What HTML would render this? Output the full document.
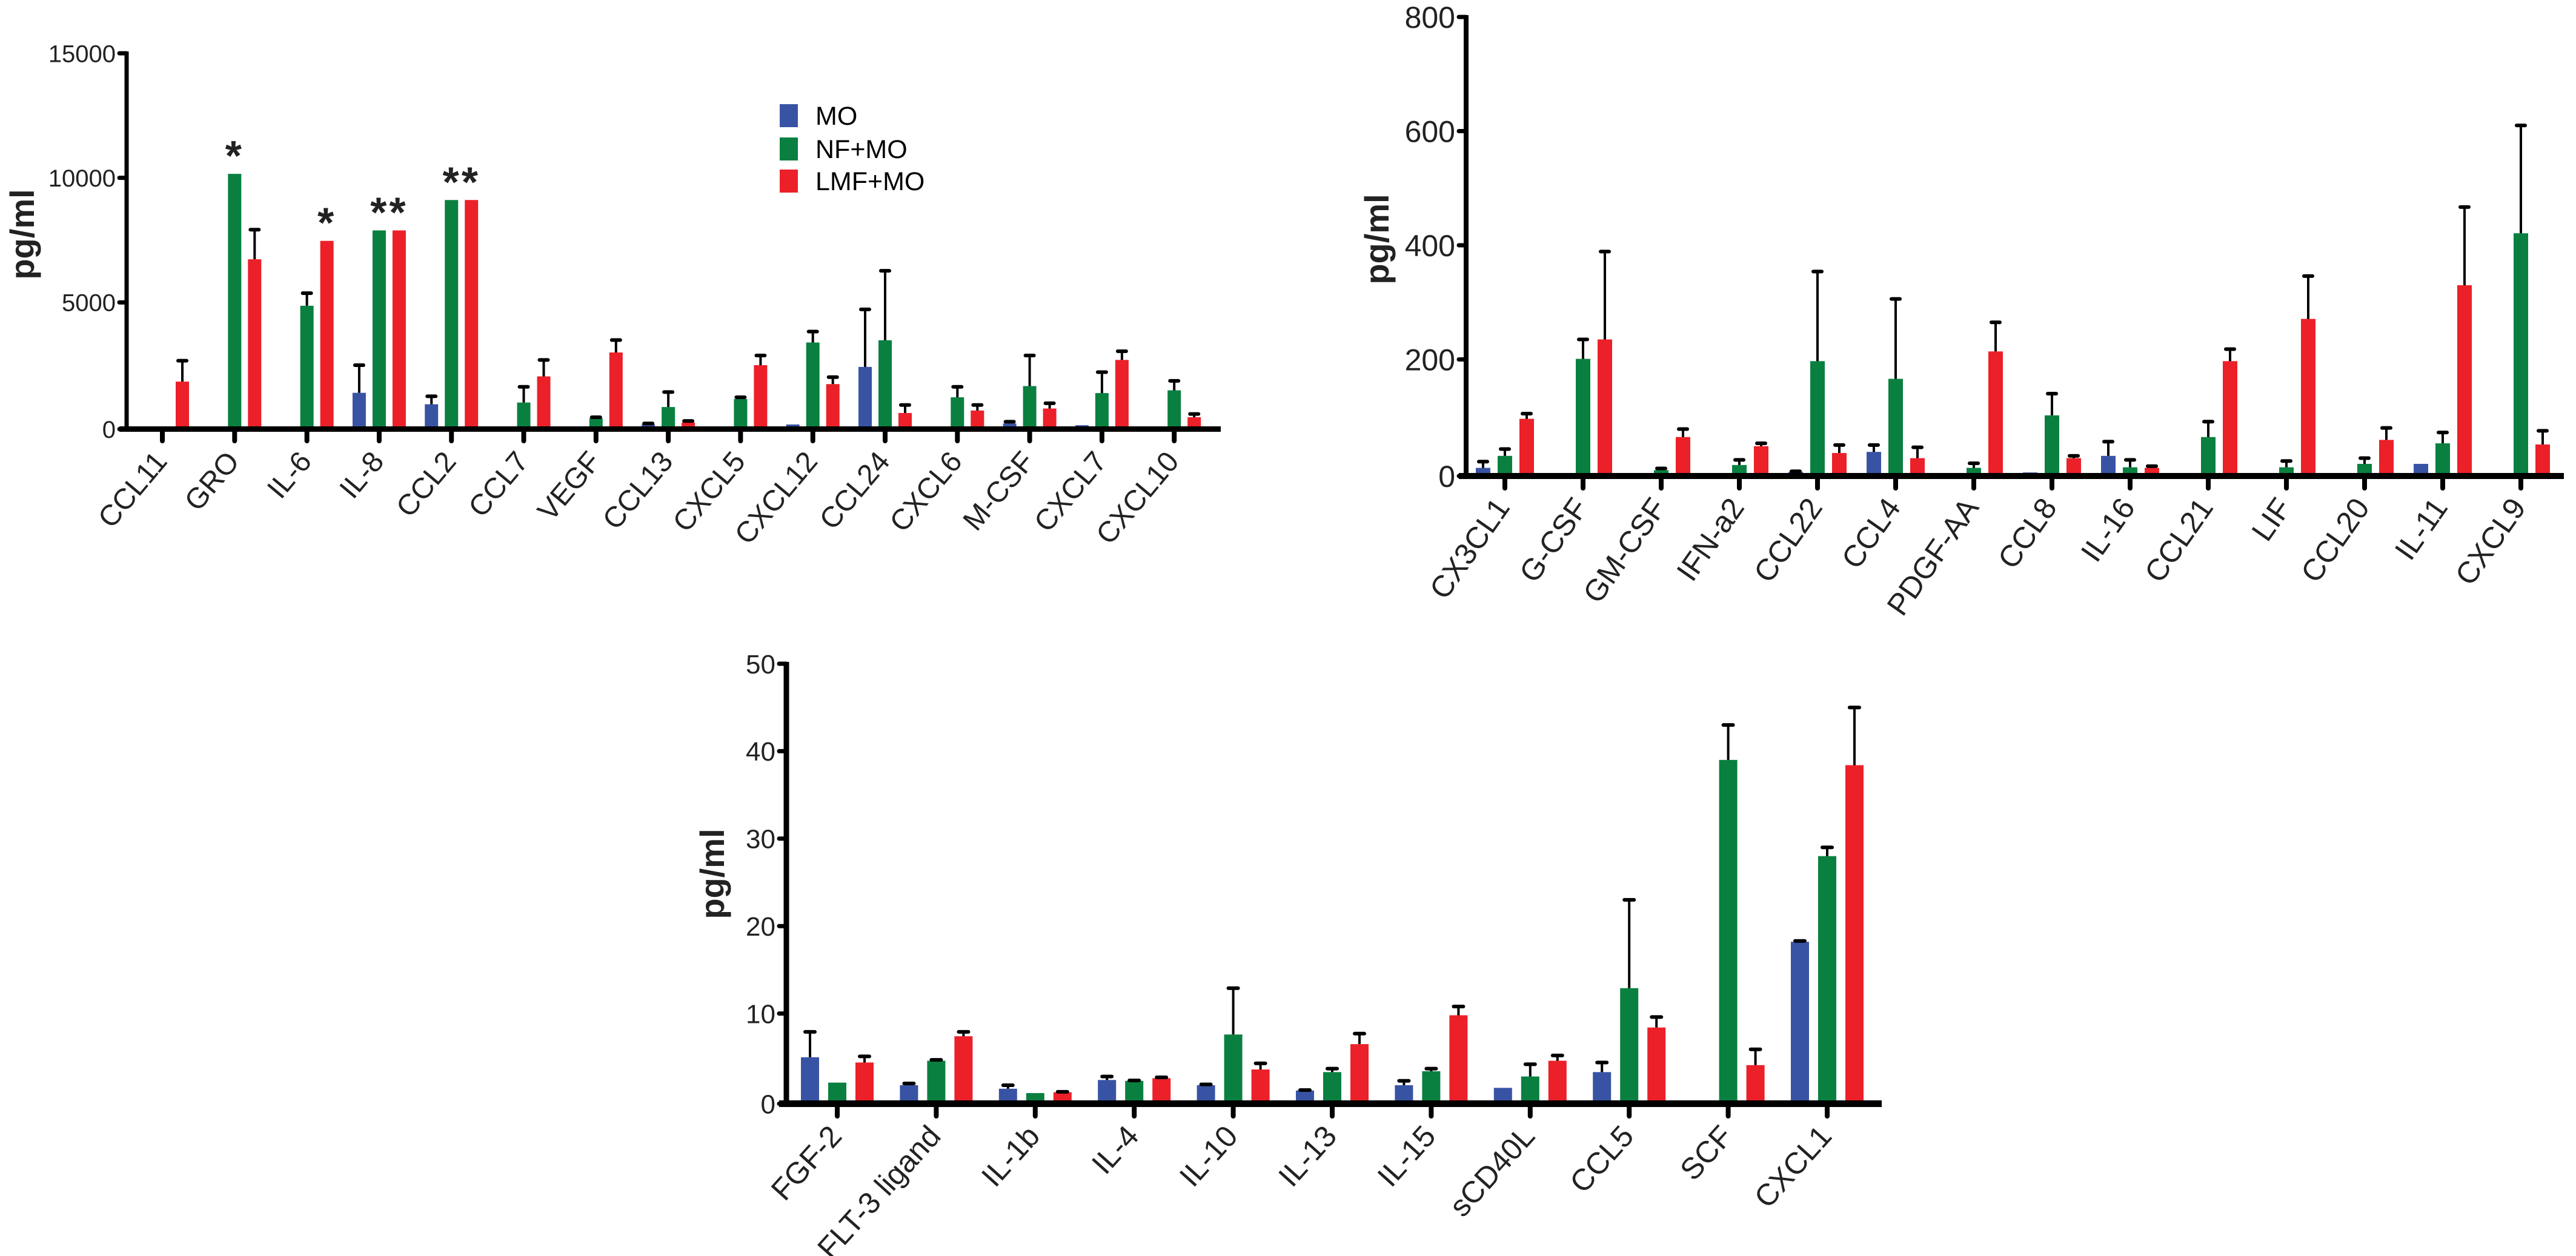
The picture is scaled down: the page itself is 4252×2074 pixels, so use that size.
<!DOCTYPE html>
<html><head><meta charset="utf-8"><style>
html,body{margin:0;padding:0;background:#fff;}
svg{display:block;font-family:"Liberation Sans",Arial,sans-serif;}
</style></head><body>
<svg id="fig" width="4252" height="2074" viewBox="0 0 4252 2074" xmlns="http://www.w3.org/2000/svg">
<rect width="4252" height="2074" fill="#fff"/>
<g id="c1"></g>
<g id="c2"></g>
<g id="c3"></g>
<g>
<rect x="1287" y="172" width="30" height="38" fill="#3953a4"/>
<text x="1346" y="206" font-size="43">MO</text>
<rect x="1287" y="227" width="30" height="38" fill="#0a8040"/>
<text x="1346" y="261" font-size="43">NF+MO</text>
<rect x="1287" y="280" width="30" height="38" fill="#ec2028"/>
<text x="1346" y="314" font-size="43">LMF+MO</text>
</g>
</svg>
<script>
// ---- Chart 1 data ----
const c1Categories = ["CCL11","GRO","IL-6","IL-8","CCL2","CCL7","VEGF","CCL13","CXCL5","CXCL12","CCL24","CXCL6","M-CSF","CXCL7","CXCL10"];
const c1MO     = [0,0,0,1370,910,0,0,100,0,100,2410,0,140,70,0];
const c1MOTop  = [0,0,0,2480,1230,0,0,140,0,100,4720,0,210,70,0];
const c1NF     = [0,10160,4865,7890,9110,980,350,800,1120,3390,3480,1190,1640,1360,1470];
const c1NFTop  = [0,10160,5370,7890,9110,1610,390,1400,1190,3830,6270,1610,2870,2200,1850];
const c1LMF    = [1820,6730,7470,7890,9110,2030,2990,180,2480,1720,560,660,740,2690,390];
const c1LMFTop = [2660,7920,7470,7890,9110,2690,3490,240,2870,2000,880,880,950,3040,520];
const c1Ticks  = [0,5000,10000,15000];
const c1Stars  = [{cat:1,series:1,text:"*"},{cat:2,series:2,text:"*"},{cat:3,series:1.5,text:"**"},{cat:4,series:1.5,text:"**"}];
// ---- Chart 2 data ----
const c2Categories = ["CX3CL1","G-CSF","GM-CSF","IFN-a2","CCL22","CCL4","PDGF-AA","CCL8","IL-16","CCL21","LIF","CCL20","IL-11","CXCL9"];
const c2MO     = [10,0,0,1,3,38,0,2,31,1,0,0,17,0];
const c2MOTop  = [21,0,0,1,4,50,0,2,56,1,0,0,17,0];
const c2NF     = [31,201,6,15,197,166,10,102,11,64,11,17,53,421];
const c2NFTop  = [43,235,9,24,354,306,18,140,24,91,22,27,72,610];
const c2LMF    = [96,235,64,48,36,27,214,27,10,197,271,59,330,51];
const c2LMFTop = [105,389,78,53,50,46,265,31,13,218,346,80,467,75];
const c2Ticks  = [0,200,400,600,800];
// ---- Chart 3 data ----
const c3Categories = ["FGF-2","FLT-3 ligand","IL-1b","IL-4","IL-10","IL-13","IL-15","sCD40L","CCL5","SCF","CXCL1"];
const c3MO     = [5.0,1.8,1.4,2.4,1.8,1.2,1.8,1.5,3.3,0,18.2];
const c3MOTop  = [7.9,2.0,1.8,2.8,1.9,1.25,2.3,1.5,4.4,0,18.3];
const c3NF     = [2.1,4.6,0.9,2.3,7.6,3.3,3.4,2.8,12.9,39.0,28.0];
const c3NFTop  = [2.1,4.7,0.9,2.35,12.9,3.7,3.7,4.2,23.0,43.0,29.0];
const c3LMF    = [4.4,7.4,1.0,2.6,3.6,6.5,9.8,4.6,8.4,4.1,38.4];
const c3LMFTop = [5.1,7.9,1.05,2.7,4.3,7.7,10.8,5.2,9.6,5.9,45.0];
const c3Ticks  = [0,10,20,30,40,50];

const NS = "http://www.w3.org/2000/svg";
const COLORS = ["#3953a4","#0a8040","#ec2028"];
const SERIES_NAMES = ["mo","nf-mo","lmf-mo"];

function mk(parent, tag, attrs){
  const e = document.createElementNS(NS, tag);
  for (const k in attrs) e.setAttribute(k, attrs[k]);
  parent.appendChild(e);
  return e;
}

function drawChart(gid, o, cats, vals, tops, ticks, stars){
  const g = document.getElementById(gid);
  const yScale = v => o.y0 - (v - 0) / o.max * (o.y0 - o.yTop);
  const xScale = i => o.x0 + o.step * i;
  for (let s = 0; s < 3; s++){
    for (let i = 0; i < cats.length; i++){
      const v = vals[s][i];
      const cx = xScale(i) + (s - 1) * o.off;
      if (v > 0){
        const yv = yScale(v);
        const r = mk(g, "rect", {x: cx - o.bw/2, y: yv, width: o.bw, height: Math.max(o.y0 - yv, 1), fill: COLORS[s]});
        
        
        const t = tops[s][i];
        if (t > v + 0.0001){
          const yt = yScale(t);
          const l = mk(g, "line", {x1: cx, x2: cx, y1: yv, y2: yt, stroke: "#000", "stroke-width": o.ew});
          
          
          const c = mk(g, "line", {x1: cx - o.cap/2, x2: cx + o.cap/2, y1: yt, y2: yt, stroke: "#000", "stroke-width": o.ew + 2, "stroke-linecap": "round"});
          
          
        }
      }
    }
  }
  const ya = mk(g, "line", {x1: o.axX, x2: o.axX, y1: o.yTop - 3, y2: o.y0 + o.axW, stroke: "#000", "stroke-width": o.axW});
  
  
  const xa = mk(g, "line", {x1: o.axX - 12, x2: o.xEnd, y1: o.y0 + o.axW/2, y2: o.y0 + o.axW/2, stroke: "#000", "stroke-width": o.axW + 2});
  
  
  for (const t of ticks){
    const y = yScale(t) + (t === 0 ? o.axW/2 : 0);
    const tk = mk(g, "line", {x1: o.axX - 12, x2: o.axX, y1: y, y2: y, stroke: "#000", "stroke-width": 7, "stroke-linecap": "round"});
    
    
    const tl = mk(g, "text", {x: o.axX - 18, y: y + o.tickFs * 0.36, "font-size": o.tickFs, "text-anchor": "end", fill: "#222"});
    tl.textContent = String(t);
    
    
  }
  for (let i = 0; i < cats.length; i++){
    const x = xScale(i);
    const tk = mk(g, "line", {x1: x, x2: x, y1: o.y0 + o.axW, y2: o.y0 + o.axW + 16, stroke: "#000", "stroke-width": 8, "stroke-linecap": "round"});
    
    
    const lx = x + 10, ly = o.y0 + o.labDy;
    const lb = mk(g, "text", {x: lx, y: ly, "font-size": o.labFs, "text-anchor": "end", fill: "#222", transform: "rotate(" + (-o.ang) + " " + lx + " " + ly + ")"});
    lb.textContent = cats[i];
    
    
  }
  const yt = mk(g, "text", {x: o.titleX, y: o.titleY, "font-size": 56, "font-weight": "bold", "text-anchor": "middle", fill: "#222", transform: "rotate(-90 " + o.titleX + " " + o.titleY + ")"});
  yt.textContent = "pg/ml";
  
  
  if (stars){
    for (const st of stars){
      const x = xScale(st.cat) + (st.series - 1) * o.off;
      const top = Math.max(tops[Math.floor(st.series)][st.cat], tops[Math.ceil(st.series)][st.cat]);
      const y = yScale(top) - 6;
      const s = mk(g, "text", {x: x, y: y, "font-size": 70, "font-weight": "bold", "text-anchor": "middle", "letter-spacing": "4", fill: "#222"});
      s.textContent = st.text;
      
      
    }
  }
}

drawChart("c1", {x0:268, step:119.3, off:33, bw:22, y0:705, yTop:88, max:15000, axX:209, axW:7, xEnd:2015, ew:4, cap:14, tickFs:40, labFs:48, ang:50, labDy:58, titleX:56, titleY:387},
  c1Categories, [c1MO, c1NF, c1LMF], [c1MOTop, c1NFTop, c1LMFTop], c1Ticks, c1Stars);
drawChart("c2", {x0:2484, step:129, off:36, bw:24, y0:782, yTop:28, max:800, axX:2420, axW:8, xEnd:4232, ew:4, cap:14, tickFs:50, labFs:50, ang:55, labDy:56, titleX:2292, titleY:395},
  c2Categories, [c2MO, c2NF, c2LMF], [c2MOTop, c2NFTop, c2LMFTop], c2Ticks, null);
drawChart("c3", {x0:1382, step:163.4, off:45, bw:30, y0:1818, yTop:1096, max:50, axX:1298, axW:9, xEnd:3106, ew:4, cap:16, tickFs:44, labFs:50, ang:48, labDy:60, titleX:1195, titleY:1443},
  c3Categories, [c3MO, c3NF, c3LMF], [c3MOTop, c3NFTop, c3LMFTop], c3Ticks, null);
</script>
</body></html>
